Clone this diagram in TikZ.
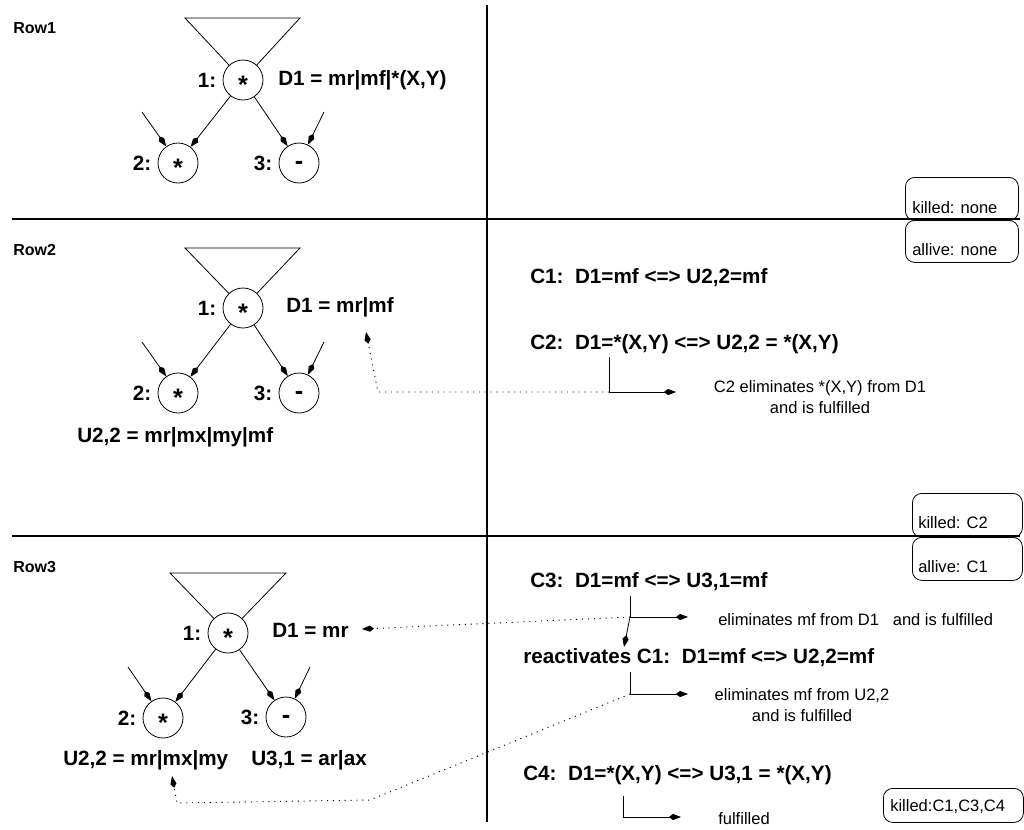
\documentclass[tikz,border=0pt]{standalone}
\usepackage{fontspec}
\setmainfont{Liberation Sans}
\usetikzlibrary{arrows.meta}
\begin{document}
\begin{tikzpicture}[x=0.75pt,y=-0.75pt,
  big/.style={font=\fontsize{15.5}{18}\selectfont\bfseries, inner sep=0pt},
  small/.style={font=\fontsize{12.4}{15.5}\selectfont, inner sep=0pt},
  rowlab/.style={font=\fontsize{12}{14}\selectfont\bfseries, inner sep=0pt, anchor=west},
  vnode/.style={circle, draw, line width=0.6pt, minimum size=30pt, inner sep=0pt,
     font=\fontsize{19}{22}\selectfont\bfseries},
  nlab/.style={big, label distance=4.5pt},
  tip/.tip={Kite[length=9pt,width=4.6pt,inset=3pt]},
  edge/.style={line width=0.6pt, -tip},
  thinline/.style={line width=0.6pt},
  sepline/.style={line width=0.9pt},
  dotarrow/.style={line width=0.7pt, dash pattern=on 0.8pt off 3.6pt, -tip},
  statebox/.style={draw, rounded corners=7pt, line width=0.6pt, inner sep=0pt, anchor=north west},
]
\useasboundingbox (0,0) rectangle (1024,829);
\fill[white] (0,0) rectangle (1024,829);

% separators
\coordinate (h1l) at (12,219); \coordinate (h1r) at (1020,219);
\coordinate (h2l) at (12,536); \coordinate (h2r) at (1020,536);
\coordinate (vt) at (487,5); \coordinate (vb) at (487,822);
\draw[sepline] (h1l) -- (h1r);
\draw[sepline] (h2l) -- (h2r);
\draw[sepline] (vt) -- (vb);

% ===== Row 1 =====
\node[rowlab] (row1) at (13,28) {Row1};
\node[vnode, label={[nlab]left:{1:}}] (a1) at (243,80) {\raisebox{-0.52em}[0pt][0pt]{*}};
\node[vnode, label={[nlab]left:{2:}}] (a2) at (178,163) {\raisebox{-0.52em}[0pt][0pt]{*}};
\node[vnode, label={[nlab]left:{3:}}] (a3) at (299,163) {\raisebox{-0.26em}[0pt][0pt]{-}};
\coordinate (a1tl) at (185,18); \coordinate (a1tr) at (300,18);
\draw[thinline] (a1) -- (a1tl) -- (a1tr) -- (a1);
\draw[edge] (a1) -- (a2);
\draw[edge] (a1) -- (a3);
\coordinate (a2in) at (142,112); \coordinate (a3in) at (324,112);
\draw[edge] (a2in) -- (a2);
\draw[edge] (a3in) -- (a3);
\node[big, anchor=west] (d1a) at (278,80) {D1 = mr|mf|*(X,Y)};

\node[statebox, minimum width=84.75pt, minimum height=32.25pt] (k1) at (905,177) {};
\node[small, anchor=west] (k1t) at (912,208) {killed: none};

% ===== Row 2 =====
\node[statebox, minimum width=84.75pt, minimum height=31.5pt] (al1) at (905,220) {};
\node[small, anchor=west] (al1t) at (912,250) {allive: none};

\node[rowlab] (row2) at (13,250) {Row2};
\node[vnode, label={[nlab]left:{1:}}] (b1) at (243,308) {\raisebox{-0.52em}[0pt][0pt]{*}};
\node[vnode, label={[nlab]left:{2:}}] (b2) at (178,393) {\raisebox{-0.52em}[0pt][0pt]{*}};
\node[vnode, label={[nlab]left:{3:}}] (b3) at (299,393) {\raisebox{-0.26em}[0pt][0pt]{-}};
\coordinate (b1tl) at (185,248); \coordinate (b1tr) at (300,248);
\draw[thinline] (b1) -- (b1tl) -- (b1tr) -- (b1);
\draw[edge] (b1) -- (b2);
\draw[edge] (b1) -- (b3);
\coordinate (b2in) at (142,342); \coordinate (b3in) at (324,342);
\draw[edge] (b2in) -- (b2);
\draw[edge] (b3in) -- (b3);
\node[big, anchor=west] (d1b) at (286,307) {D1 = mr|mf};
\node[big, anchor=west] (u22b) at (77,437) {U2,2 = mr|mx|my|mf};

\node[big, anchor=west] (c1b) at (530,278) {C1:\ \ D1=mf <=> U2,2=mf};
\node[big, anchor=west] (c2b) at (530,344) {C2:\ \ D1=*(X,Y) <=> U2,2 = *(X,Y)};
\coordinate (c2top) at (609,357); \coordinate (c2e) at (609,392); \coordinate (c2tip) at (676,392);
\draw[thinline] (c2top) -- (c2e);
\draw[edge] (c2e) -- (c2tip);
\coordinate (c2bend) at (378,392); \coordinate (c2dtip) at (366,332);
\draw[dotarrow] (c2e) -- (c2bend) -- (c2dtip);
\node[small, align=center] (c2txt) at (820,397) {C2 eliminates *(X,Y) from D1\\and is fulfilled};

\node[statebox, minimum width=82.5pt, minimum height=33pt] (k2) at (912,493) {};
\node[small, anchor=west] (k2t) at (918,523) {killed: C2};

% ===== Row 3 =====
\node[statebox, minimum width=82.5pt, minimum height=32.25pt] (al2) at (912,537) {};
\node[small, anchor=west] (al2t) at (918,567) {allive: C1};

\node[rowlab] (row3) at (13,567) {Row3};
\node[vnode, label={[nlab]left:{1:}}] (e1) at (228,633) {\raisebox{-0.52em}[0pt][0pt]{*}};
\node[vnode, label={[nlab]left:{2:}}] (e2) at (163,718) {\raisebox{-0.52em}[0pt][0pt]{*}};
\node[vnode, label={[nlab]left:{3:}}] (e3) at (286,717) {\raisebox{-0.26em}[0pt][0pt]{-}};
\coordinate (e1tl) at (170,573); \coordinate (e1tr) at (286,573);
\draw[thinline] (e1) -- (e1tl) -- (e1tr) -- (e1);
\draw[edge] (e1) -- (e2);
\draw[edge] (e1) -- (e3);
\coordinate (e2in) at (128,667); \coordinate (e3in) at (310,667);
\draw[edge] (e2in) -- (e2);
\draw[edge] (e3in) -- (e3);
\node[big, anchor=west] (d1e) at (272,630) {D1 = mr};
\node[big, anchor=west] (u22e) at (63,760) {U2,2 = mr|mx|my};
\node[big, anchor=west] (u31e) at (251,760) {U3,1 = ar|ax};

\node[big, anchor=west] (c3) at (530,582) {C3:\ \ D1=mf <=> U3,1=mf};
\coordinate (c3top) at (630,596); \coordinate (c3e) at (630,617); \coordinate (c3tip) at (688,617);
\draw[thinline] (c3top) -- (c3e);
\draw[edge] (c3e) -- (c3tip);
\coordinate (c3down) at (624,647);
\draw[edge] (c3e) -- (c3down);
\coordinate (c3dtip) at (362,629);
\draw[dotarrow] (c3e) -- (c3dtip);
\node[small, anchor=west] (c3txt) at (718,620) {eliminates mf from D1\ \ \ and is fulfilled};

\node[big, anchor=west] (c1r) at (523,658) {reactivates C1:\ \ D1=mf <=> U2,2=mf};
\coordinate (c1top) at (630,672); \coordinate (c1e) at (630,694); \coordinate (c1tip) at (688,694);
\draw[thinline] (c1top) -- (c1e);
\draw[edge] (c1e) -- (c1tip);
\coordinate (c1bend1) at (370,800); \coordinate (c1bend2) at (177,803); \coordinate (c1dtip) at (172,776);
\draw[dotarrow] (c1e) -- (c1bend1) -- (c1bend2) -- (c1dtip);
\node[small, align=center] (c1txt) at (802,705) {eliminates mf from U2,2\\and is fulfilled};

\node[big, anchor=west] (c4) at (523,775) {C4:\ \ D1=*(X,Y) <=> U3,1 = *(X,Y)};
\coordinate (c4top) at (623,796); \coordinate (c4e) at (623,817); \coordinate (c4tip) at (681,817);
\draw[thinline] (c4top) -- (c4e);
\draw[edge] (c4e) -- (c4tip);
\node[small, anchor=west] (c4txt) at (718,819) {fulfilled};

\node[statebox, minimum width=105pt, minimum height=25.5pt] (k3) at (883,788) {};
\node[small, anchor=west] (k3t) at (890,807) {killed:C1,C3,C4};
\end{tikzpicture}
\end{document}
